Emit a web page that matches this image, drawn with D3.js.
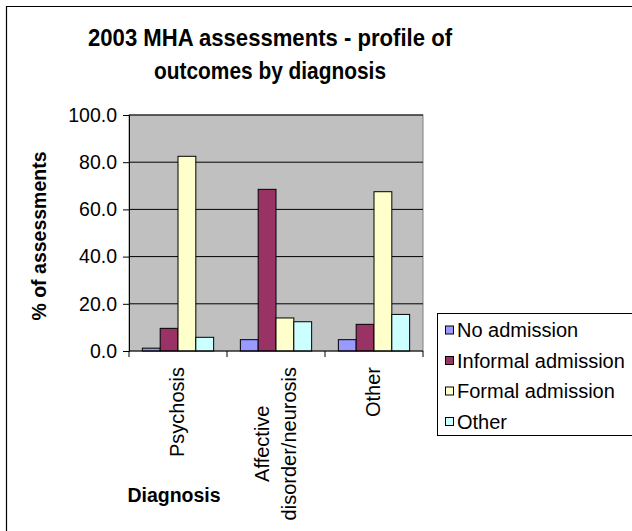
<!DOCTYPE html>
<html><head><meta charset="utf-8">
<script src="https://cdn.jsdelivr.net/npm/d3@7"></script>
<style>body{margin:0;background:#fff}svg{display:block}text{font-family:"Liberation Sans",Arial,sans-serif}</style>
</head><body><svg id="c" width="632" height="531"></svg>
<script>
const categories = ["Psychosis", "Affective disorder/neurosis", "Other"];
const categoryLines = [["Psychosis"], ["Affective", "disorder/neurosis"], ["Other"]];
const seriesNames = ["No admission", "Informal admission", "Formal admission", "Other"];
const noAdmission = [1.2, 4.8, 4.8];
const informalAdmission = [9.6, 68.5, 11.3];
const formalAdmission = [82.5, 14.0, 67.5];
const otherOutcome = [5.8, 12.4, 15.5];
const yTicks = [0, 20, 40, 60, 80, 100];
const colors = ["#9999FF", "#993366", "#FFFFCC", "#CCFFFF"];

const series = [noAdmission, informalAdmission, formalAdmission, otherOutcome];
const svg = d3.select("#c");
const FF = "Liberation Sans, Arial, sans-serif";

// outer frame (left/top visible)
svg.append("path").attr("d","M6.5,531 L6.5,6.5 L632,6.5").attr("fill","none").attr("stroke","#000").attr("stroke-width",1.2);

const pl = 129, pr = 423, pt = 115, pb = 351;
const x = d3.scaleBand().domain(categories).range([pl, pr]);
const y = d3.scaleLinear().domain([0, 100]).range([pb, pt]);

// plot bg
svg.append("rect").attr("x",pl).attr("y",pt).attr("width",pr-pl).attr("height",pb-pt).attr("fill","#C0C0C0").attr("stroke","#808080");
// gridlines
svg.append("g").selectAll("line").data(yTicks.filter(d=>d>0)).join("line")
  .attr("x1",pl).attr("x2",pr).attr("y1",d=>y(d)).attr("y2",d=>y(d)).attr("stroke","#000").attr("stroke-width",1);

// bars
const barW = x.bandwidth()/ (4 + 1.5);
categories.forEach((c,ci)=>{
  series.forEach((s,si)=>{
    const x0 = x(c) + barW*0.75 + si*barW;
    svg.append("rect").attr("x",x0).attr("y",y(s[ci])).attr("width",barW).attr("height",y(0)-y(s[ci]))
      .attr("fill",colors[si]).attr("stroke","#000").attr("stroke-width",1);
  });
});

// y axis
const yAxis = d3.axisLeft(y).tickValues(yTicks).tickFormat(d3.format(".1f")).tickSize(6).tickPadding(6);
const ya = svg.append("g").attr("transform",`translate(${pl},0)`).call(yAxis);
ya.select(".domain").attr("stroke","#000");
ya.selectAll("line").attr("stroke","#000");
ya.selectAll("text").attr("font-size",19.5).attr("fill","#000").attr("font-family",FF);

// x axis
const xa = svg.append("g").attr("transform",`translate(0,${pb})`);
xa.append("line").attr("x1",pl).attr("x2",pr).attr("stroke","#000");
xa.selectAll("line.t").data([pl, ...categories.map(c=>x(c)+x.bandwidth())]).join("line").attr("class","t")
  .attr("x1",d=>d).attr("x2",d=>d).attr("y1",0).attr("y2",6).attr("stroke","#000");
categories.forEach((c,ci)=>{
  const lines = categoryLines[ci];
  const cx = x(c)+x.bandwidth()/2;
  const lh = 27;
  const g = svg.append("g");
  const ts = lines.map((ln,li)=>{
    const off = (li - (lines.length-1)/2)*lh;
    return g.append("text").attr("data-off",off).attr("text-anchor","middle").attr("font-size",20).text(ln);
  });
  const maxL = d3.max(ts, t=>t.node().getComputedTextLength());
  ts.forEach(t=>{
    const off = +t.attr("data-off");
    t.attr("transform",`translate(${cx+off+6},${pb+16+maxL/2}) rotate(-90)`);
  });
});

// titles
const title = svg.append("text").attr("text-anchor","middle").attr("font-weight","bold").attr("font-size",24);
title.append("tspan").attr("x",270).attr("y",46).attr("textLength",364).attr("lengthAdjust","spacingAndGlyphs").text("2003 MHA assessments - profile of");
title.append("tspan").attr("x",270).attr("y",79).attr("textLength",232).attr("lengthAdjust","spacingAndGlyphs").text("outcomes by diagnosis");

svg.append("text").attr("transform","translate(46,236) rotate(-90)").attr("text-anchor","middle")
  .attr("font-weight","bold").attr("font-size",19.5).text("% of assessments");
svg.append("text").attr("x",174).attr("y",502).attr("text-anchor","middle")
  .attr("font-weight","bold").attr("font-size",19.5).text("Diagnosis");

// legend
const lg = svg.append("g");
lg.append("rect").attr("x",437.5).attr("y",313.5).attr("width",300).attr("height",122).attr("fill","#fff").attr("stroke","#000");
seriesNames.forEach((n,i)=>{
  const cy = 330 + i*30.5;
  lg.append("rect").attr("x",445.5).attr("y",cy-4).attr("width",8).attr("height",8).attr("fill",colors[i]).attr("stroke","#000");
  lg.append("text").attr("x",457).attr("y",cy+7).attr("font-size",20).text(n);
});
</script></body></html>
